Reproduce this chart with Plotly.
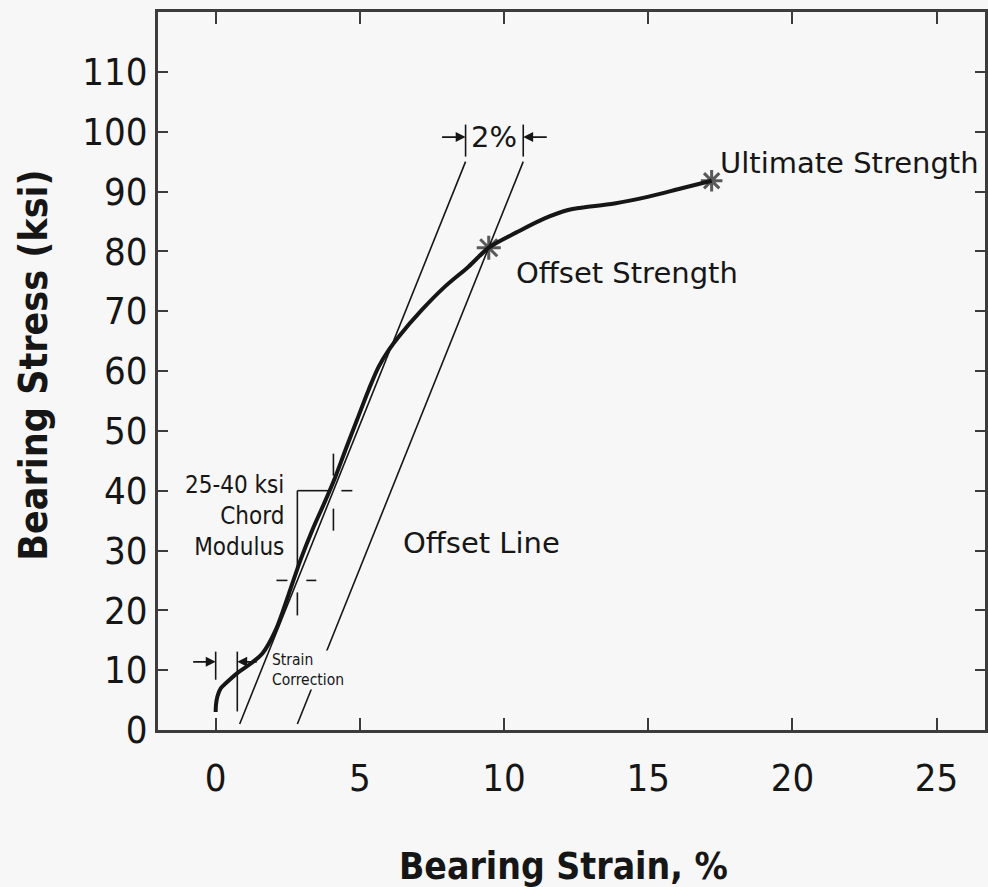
import numpy as np
import plotly.graph_objects as go

# Bearing stress-strain curve (strain in %, stress in ksi)
strain = [0.0, 0.01, 0.06, 0.18, 0.35, 0.75, 1.16, 1.62, 2.08, 2.54, 2.94, 3.35,
          3.81, 4.15, 4.50, 4.90, 5.30, 5.65, 6.00, 6.34, 7.15, 7.95, 8.76, 9.47,
          10.49, 11.41, 12.22, 12.67, 13.83, 14.98, 16.13, 17.20]
stress = [3.0, 4.2, 5.6, 7.0, 7.8, 9.5, 10.9, 12.8, 16.7, 22.8, 28.4, 33.4,
          38.4, 42.3, 46.8, 51.8, 56.8, 60.7, 63.5, 65.7, 70.2, 74.1, 77.4, 80.6,
          83.3, 85.5, 86.9, 87.3, 88.0, 89.1, 90.5, 91.8]

# Construction values
chord_modulus = 12.0          # ksi per % strain
strain_correction = 0.75      # %
offset_pct = 2.0              # %
line_stress = [1.0, 95.0]     # stress span of modulus / offset lines
chord_stress = [25.0, 40.0]   # chord modulus stress window
offset_strength = [9.47, 80.6]
ultimate_strength = [17.2, 91.8]

x_ticks = [0, 5, 10, 15, 20, 25]
y_ticks = list(range(0, 111, 10))
x_range = [-2.0, 26.68]
y_range = [0.0, 120.0]

W, H = 988, 887
M = dict(l=158, r=0, t=12, b=157)
px_x = (W - M["l"] - M["r"]) / (x_range[1] - x_range[0])
px_y = (H - M["t"] - M["b"]) / (y_range[1] - y_range[0])


def dx(p):
    return p / px_x


def dy(p):
    return p / px_y


ink = "#161616"
bg = "#f7f7f7"
axis_col = "#3c3c3c"
reg = "DejaVu Sans"
cond = "DejaVu Sans Condensed"

mod_x = [strain_correction + s / chord_modulus for s in line_stress]
off_x = [strain_correction + offset_pct + s / chord_modulus for s in line_stress]

fig = go.Figure()
fig.add_trace(go.Scatter(x=mod_x, y=line_stress, mode="lines",
                         line=dict(color=ink, width=1.6), hoverinfo="skip"))
fig.add_trace(go.Scatter(x=off_x, y=line_stress, mode="lines",
                         line=dict(color=ink, width=1.6), hoverinfo="skip"))
fig.add_trace(go.Scatter(x=strain, y=stress, mode="lines",
                         line=dict(color=ink, width=4, shape="spline", smoothing=0.9),
                         hoverinfo="skip"))
fig.add_trace(go.Scatter(x=[offset_strength[0], ultimate_strength[0]],
                         y=[offset_strength[1], ultimate_strength[1]], mode="markers",
                         marker=dict(symbol="asterisk-open", size=[20, 18], color=ink,
                                     line=dict(color=ink, width=3)),
                         hoverinfo="skip"))


def seg(x0, y0, x1, y1, w=1.6):
    fig.add_shape(type="line", xref="x", yref="y", x0=x0, y0=y0, x1=x1, y1=y1,
                  line=dict(color=ink, width=w))


# Chord modulus crosshairs and bracket
lo_s, hi_s = chord_stress
lo_x = strain_correction + lo_s / chord_modulus
hi_x = strain_correction + hi_s / chord_modulus
# upper crosshair
seg(hi_x, hi_s + dy(15), hi_x, hi_s + dy(37))
seg(hi_x, hi_s - dy(18), hi_x, hi_s - dy(40))
seg(hi_x + dx(8), hi_s, hi_x + dx(19), hi_s)
# bracket from lower crosshair up to upper one
seg(lo_x, lo_s + dy(13), lo_x, hi_s)
seg(lo_x, hi_s, hi_x - dx(5), hi_s)
# lower crosshair
seg(lo_x - dx(21), lo_s, lo_x - dx(10), lo_s)
seg(lo_x + dx(9), lo_s, lo_x + dx(19), lo_s)
seg(lo_x, lo_s - dy(12), lo_x, lo_s - dy(35))

# Strain correction bars
seg(0.0, 8.4, 0.0, 13.1)
seg(strain_correction, 3.1, strain_correction, 13.1)
# 2 % offset bars at the top of the lines
top = line_stress[1]
seg(mod_x[1], top + dy(5), mod_x[1], top + dy(37))
seg(off_x[1], top + dy(5), off_x[1], top + dy(37))


def arrow(x, y, ax):
    fig.add_annotation(x=x, y=y, ax=ax, ay=0, text="", showarrow=True,
                       arrowhead=2, arrowsize=1.1, arrowwidth=1.8, arrowcolor=ink,
                       standoff=0)


arrow(0.0, 11.4, -24)
arrow(strain_correction, 11.4, 21)
arrow(mod_x[1], 99.1, -25)
arrow(off_x[1], 99.1, 25)


def label(text, x, y, size, family=reg, xanchor="left", align="left", **kw):
    fig.add_annotation(x=x, y=y, text=text, showarrow=False, xanchor=xanchor,
                       yanchor="middle", align=align,
                       font=dict(family=family, size=size, color=ink), **kw)


label("Ultimate Strength", ultimate_strength[0] + dx(6), 94.8, 29)
label("Offset Strength", 10.35, 76.4, 29)
label("Offset Line", 6.41, 31.3, 29)
label("2%", (mod_x[1] + off_x[1]) / 2, 99.1, 29, xanchor="center", align="center")
label("25-40 ksi<br>Chord<br>Modulus", lo_x - dx(11), 35.7, 24, family=cond,
      xanchor="right", align="right")
label("Strain<br>Correction", 1.93, 10.0, 15.5, family=cond,
      bgcolor=bg, borderpad=0)

# Axis titles
fig.add_annotation(xref="paper", yref="paper", x=-0.1506, y=0.508,
                   text="<b>Bearing Stress (ksi)</b>", textangle=-90, showarrow=False,
                   xanchor="center", yanchor="middle",
                   font=dict(family=cond, size=39, color=ink))
fig.add_annotation(xref="paper", yref="paper", x=0.490, y=-0.190,
                   text="<b>Bearing Strain, %</b>", showarrow=False,
                   xanchor="center", yanchor="middle",
                   font=dict(family=cond, size=37, color=ink))

axis_common = dict(showgrid=False, zeroline=False, showline=True, linecolor=axis_col,
                   linewidth=2.6, mirror="ticks", ticks="inside", tickcolor=axis_col,
                   tickwidth=2, tickfont=dict(family=cond, size=38, color=ink))
fig.update_xaxes(range=x_range, tickvals=x_ticks, ticklen=12, ticklabelstandoff=13,
                 **axis_common)
fig.update_yaxes(range=y_range, tickvals=y_ticks, ticklen=10, ticklabelstandoff=0,
                 **axis_common)

fig.update_layout(width=W, height=H, margin=M, showlegend=False,
                  paper_bgcolor=bg, plot_bgcolor=bg)

fig.write_html("out.html")
